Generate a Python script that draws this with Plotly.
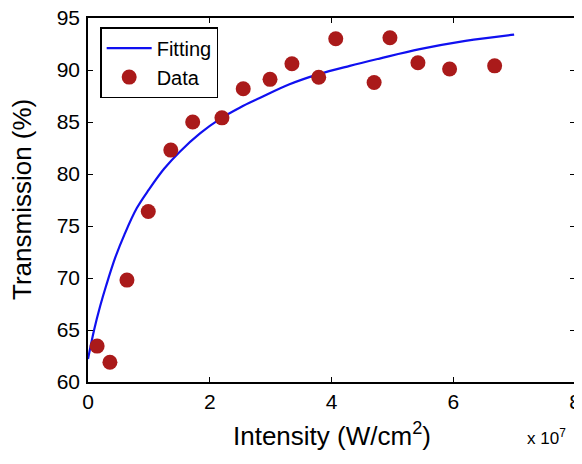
import plotly.graph_objects as go

# Data points (x in units of 1e7 W/cm^2)
data_x = [0.15, 0.36, 0.64, 0.99, 1.36, 1.72, 2.20, 2.55, 2.99, 3.35, 3.79, 4.07, 4.70, 4.96, 5.42, 5.94, 6.68]
data_y = [63.45, 61.9, 69.8, 76.4, 82.3, 85.0, 85.4, 88.2, 89.1, 90.6, 89.3, 93.0, 88.8, 93.1, 90.7, 90.1, 90.4]

# Fitting curve
fit_x = [0, 0.1, 0.2, 0.3, 0.45, 0.6, 0.8, 1.0, 1.25, 1.5, 1.84, 2.17, 2.5, 2.82, 3.3, 3.79, 4.3, 4.79, 5.45, 6.2, 7.0]
fit_y = [62.2, 65.0, 67.3, 69.3, 72.0, 74.2, 76.7, 78.5, 80.5, 82.1, 83.9, 85.3, 86.4, 87.3, 88.6, 89.6, 90.4, 91.1, 92.0, 92.8, 93.4]

x_ticks = [0, 2, 4, 6, 8]
y_ticks = [60, 65, 70, 75, 80, 85, 90, 95]

font = "Liberation Sans, Arial, sans-serif"

fig = go.Figure()
fig.add_trace(go.Scatter(x=fit_x, y=fit_y, mode="lines", name="Fitting",
                         line=dict(color="#1010F0", width=2.2, shape="spline")))
fig.add_trace(go.Scatter(x=data_x, y=data_y, mode="markers", name="Data",
                         marker=dict(color="#AA1A1A", size=15, line=dict(width=0))))

axis_common = dict(showline=True, linecolor="black", linewidth=1.5, mirror="allticks",
                   ticks="inside", ticklen=5, tickwidth=1.3, tickcolor="black",
                   showgrid=False, zeroline=False, automargin=False,
                   ticklabeloverflow="allow",
                   tickfont=dict(family=font, size=21, color="black"))

fig.update_xaxes(range=[0, 8], tickvals=x_ticks, **axis_common)
fig.update_yaxes(range=[60, 95], tickvals=y_ticks, ticklabelstandoff=2, **axis_common)

fig.add_annotation(text="Intensity (W/cm<sup>2</sup>)", xref="paper", yref="paper",
                   x=0.5, y=-0.145, xanchor="center", yanchor="middle",
                   showarrow=False, font=dict(family=font, size=26, color="black"))

fig.add_annotation(text="Transmission (%)", xref="paper", yref="paper",
                   x=-0.1355, y=0.5, xanchor="center", yanchor="middle", textangle=-90,
                   showarrow=False, font=dict(family=font, size=26, color="black"))

fig.add_annotation(text="x 10<sup>7</sup>", xref="paper", yref="paper", x=0.985, y=-0.151,
                   xanchor="right", yanchor="middle", showarrow=False,
                   font=dict(family=font, size=17, color="black"))

# the page body adds an 8px offset; compensate in size and margins
fig.update_layout(
    width=574, height=456,
    margin=dict(l=80, r=7, t=10, b=82),
    plot_bgcolor="white", paper_bgcolor="white",
    legend=dict(x=0.025, y=0.975, xanchor="left", yanchor="top",
                bgcolor="white", bordercolor="black", borderwidth=1.5,
                font=dict(family=font, size=20, color="black"),
                itemwidth=45, tracegroupgap=0),
)

fig.write_html("out.html")
